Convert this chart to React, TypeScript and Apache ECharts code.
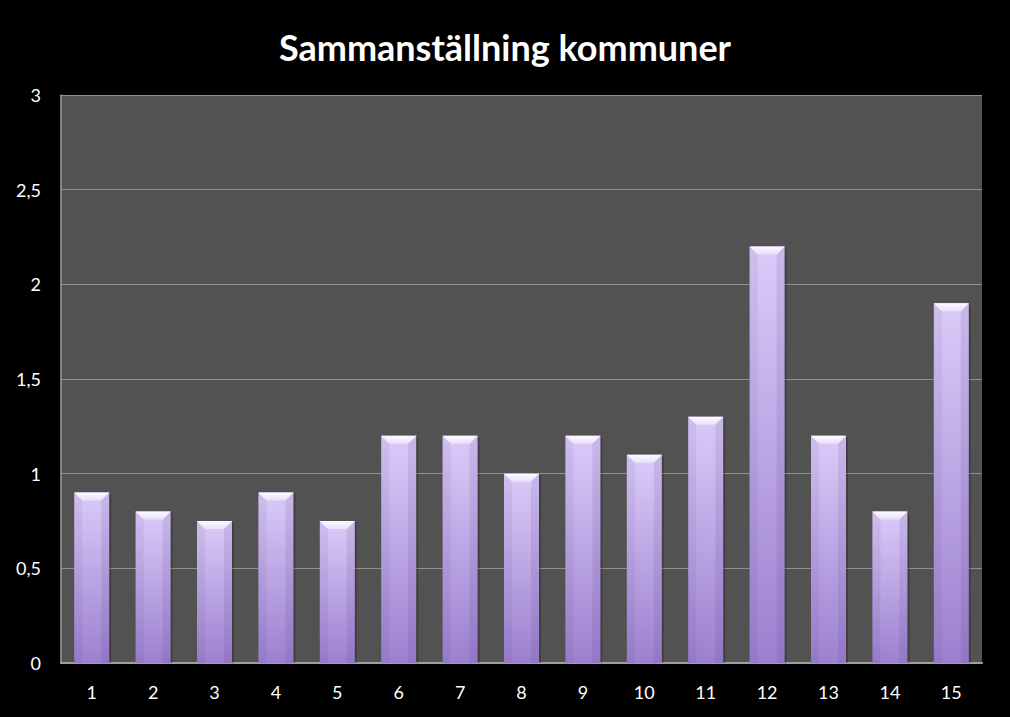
import React, { useEffect, useRef } from "react";
import * as echarts from "echarts";

const categories = ["1", "2", "3", "4", "5", "6", "7", "8", "9", "10", "11", "12", "13", "14", "15"];
const values = [0.9, 0.8, 0.75, 0.9, 0.75, 1.2, 1.2, 1.0, 1.2, 1.1, 1.3, 2.2, 1.2, 0.8, 1.9];
const titleText = "Sammanställning kommuner";

export default function App() {
  const ref = useRef<HTMLDivElement>(null);
  useEffect(() => {
    const chart = echarts.init(ref.current!, null, { renderer: "svg" });
    chart.setOption({
      animation: false,
      backgroundColor: "#000000",
      title: {
        text: titleText,
        left: "center",
        top: 24,
        textStyle: { color: "#ffffff", fontSize: 36, fontWeight: "bold", fontFamily: "Lato" },
      },
      grid: { left: 61, right: 28, top: 95, bottom: 54, show: true, backgroundColor: "#525252", borderWidth: 0 },
      xAxis: {
        type: "category",
        data: categories,
        axisLine: { lineStyle: { color: "#a0a0a0", width: 2 } },
        axisTick: { show: false },
        axisLabel: { color: "#ffffff", fontSize: 18, fontFamily: "Lato", margin: 20 },
      },
      yAxis: {
        type: "value",
        min: 0,
        max: 3,
        interval: 0.5,
        axisLine: { show: true, lineStyle: { color: "#a0a0a0", width: 1.5 } },
        axisTick: { show: false },
        splitLine: { lineStyle: { color: "#909090", width: 1.2 } },
        axisLabel: {
          color: "#ffffff",
          fontSize: 18,
          fontFamily: "Lato",
          margin: 20,
          formatter: (v: number) => String(v).replace(".", ","),
        },
      },
      series: [
        {
          type: "custom",
          data: values.map((v, i) => [i, v]),
          renderItem: (params: any, api: any) => {
            const idx = api.value(0);
            const val = api.value(1);
            const top = api.coord([idx, val]);
            const base = api.coord([idx, 0]);
            const bandW = api.size([1, 0])[0];
            const w = bandW * 0.57;
            const x = top[0] - w / 2;
            const y = top[1];
            const h = base[1] - top[1];
            const b = 8;
            return {
              type: "group",
              children: [
                {
                  type: "rect",
                  shape: { x: x + 2, y: y + 2, width: w, height: h - 2 },
                  style: { fill: "rgba(0,0,0,0.22)" },
                },
                {
                  type: "rect",
                  shape: { x, y, width: w, height: h },
                  style: {
                    fill: new echarts.graphic.LinearGradient(0, 0, 0, 1, [
                      { offset: 0, color: "#dacbf8" },
                      { offset: 1, color: "#9c80cf" },
                    ]),
                  },
                },
                {
                  type: "polygon",
                  shape: { points: [[x, y], [x + b, y + b], [x + b, base[1]], [x, base[1]]] },
                  style: { fill: "rgba(80,50,130,0.08)" },
                },
                {
                  type: "polygon",
                  shape: { points: [[x + w, y], [x + w - b, y + b], [x + w - b, base[1]], [x + w, base[1]]] },
                  style: { fill: "rgba(80,50,130,0.12)" },
                },
                {
                  type: "polygon",
                  shape: { points: [[x, y], [x + w, y], [x + w - b, y + b], [x + b, y + b]] },
                  style: {
                    fill: new echarts.graphic.LinearGradient(0, 0, 0, 1, [
                      { offset: 0, color: "#fdfbff" },
                      { offset: 1, color: "#e8defc" },
                    ]),
                  },
                },
              ],
            };
          },
        },
      ],
    });
    return () => chart.dispose();
  }, []);
  return <div ref={ref} style={{ width: 1010, height: 717, position: "absolute", left: 0, top: 0 }} />;
}
